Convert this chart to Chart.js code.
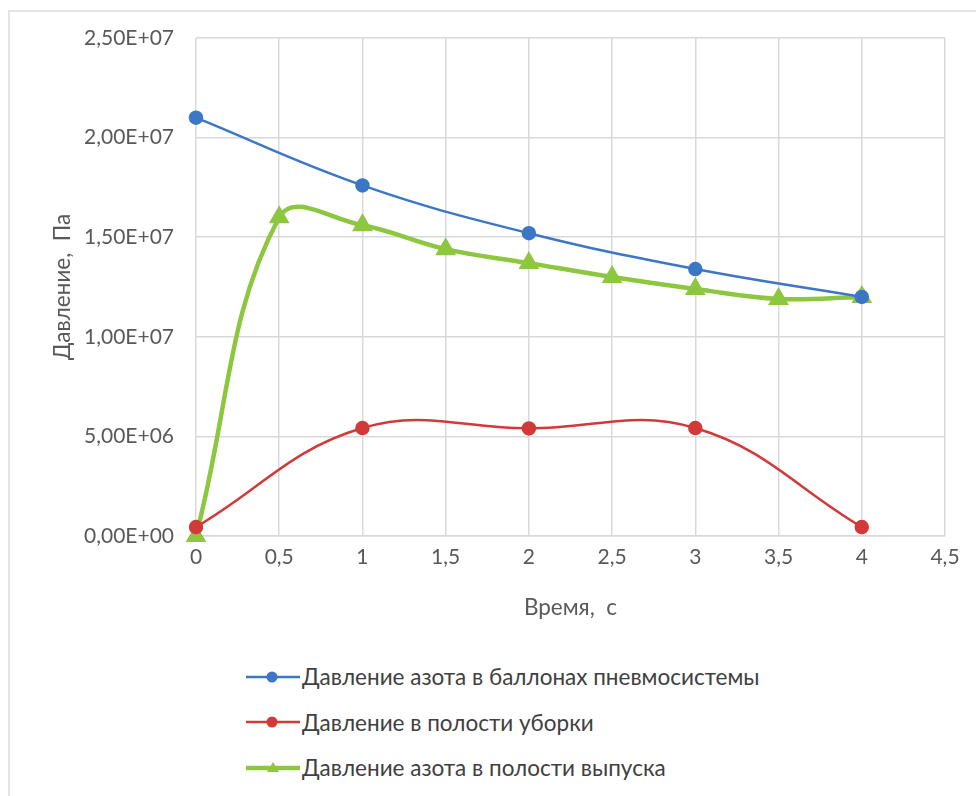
<!DOCTYPE html>
<html>
<head>
<meta charset="utf-8">
<script src="https://cdn.jsdelivr.net/npm/chart.js@4"></script>
<style>
  html, body { margin: 0; padding: 0; background: #fff; overflow: hidden; }
  body { width: 976px; height: 796px; position: relative; font-family: Lato, "Open Sans", sans-serif; }
  #frame { position: absolute; left: 8px; top: 10px; width: 1100px; height: 900px; border: 2px solid #e4e4e4; }
  #chartBox { position: absolute; left: 0; top: 0; width: 976px; height: 640px; }
  #legend { position: absolute; left: 246px; top: 654px; }
  .item { height: 45.5px; display: flex; align-items: center; font-size: 22.5px; color: #404040; white-space: nowrap; }
  .item svg { margin-right: 2px; }
</style>
</head>
<body>
<div id="frame"></div>
<div id="chartBox"><canvas id="chart" width="976" height="640"></canvas></div>
<div id="legend"></div>
<script>
// time, s
const timeMain = [0, 1, 2, 3, 4];
const timeOut = [0, 0.5, 1, 1.5, 2, 2.5, 3, 3.5, 4];

// pressure, Pa
const pressBottles = [2.10e7, 1.76e7, 1.52e7, 1.34e7, 1.20e7];
const pressRetract = [4.5e5, 5.42e6, 5.40e6, 5.42e6, 4.5e5];
const pressOutlet = [0, 1.60e7, 1.56e7, 1.44e7, 1.37e7, 1.30e7, 1.24e7, 1.19e7, 1.20e7];

const seriesNames = [
    'Давление азота в баллонах пневмосистемы',
    'Давление в полости уборки',
    'Давление азота в полости выпуска'
];
const seriesColors = ['#3b77c6', '#d23a3a', '#8dc63f'];

const xTicks = [0, 0.5, 1, 1.5, 2, 2.5, 3, 3.5, 4, 4.5];
const yTicks = [0, 5e6, 1e7, 1.5e7, 2e7, 2.5e7];

function toPoints(xs, ys) {
    return xs.map((x, i) => ({ x: x, y: ys[i] }));
}

// Excel style: 2,50E+07
function sciLabel(v) {
    if (v === 0) return '0,00E+00';
    const exp = Math.floor(Math.log10(Math.abs(v)));
    const mant = (v / Math.pow(10, exp)).toFixed(2).replace('.', ',');
    const e = (exp < 0 ? '-' : '+') + String(Math.abs(exp)).padStart(2, '0');
    return mant + 'E' + e;
}

const textColor = '#595959';
const tickFont = { family: 'Lato, "Open Sans", sans-serif', size: 21 };
const titleFont = { family: 'Lato, "Open Sans", sans-serif', size: 22.5 };

new Chart(document.getElementById('chart'), {
    type: 'line',
    data: {
        datasets: [
            {
                label: seriesNames[0],
                data: toPoints(timeMain, pressBottles),
                borderColor: seriesColors[0],
                backgroundColor: seriesColors[0],
                borderWidth: 2.5,
                pointRadius: 6,
                pointStyle: 'circle',
                tension: 0.4
            },
            {
                label: seriesNames[1],
                data: toPoints(timeMain, pressRetract),
                borderColor: seriesColors[1],
                backgroundColor: seriesColors[1],
                borderWidth: 2.5,
                pointRadius: 6,
                pointStyle: 'circle',
                tension: 0.4
            },
            {
                label: seriesNames[2],
                data: toPoints(timeOut, pressOutlet),
                borderColor: seriesColors[2],
                backgroundColor: seriesColors[2],
                borderWidth: 4.5,
                pointRadius: 7.5,
                pointStyle: 'triangle',
                tension: 0.4
            }
        ]
    },
    options: {
        responsive: false,
        animation: false,
        clip: false,
        layout: { padding: { left: 45, top: 38, right: 31, bottom: 15 } },
        plugins: {
            legend: { display: false },
            tooltip: { enabled: false }
        },
        scales: {
            x: {
                type: 'linear',
                min: 0,
                max: 4.5,
                afterBuildTicks: s => { s.ticks = xTicks.map(v => ({ value: v })); },
                afterFit: s => { s.height = 89; },
                grid: { color: '#d9d9d9', lineWidth: 1.5, drawTicks: false },
                border: { color: '#d9d9d9', width: 1.5 },
                ticks: {
                    color: textColor, font: tickFont, padding: 9,
                    callback: v => String(v).replace('.', ',')
                },
                title: {
                    display: true, text: 'Время,  с', color: textColor,
                    font: titleFont, padding: { top: 4, bottom: 4 }
                }
            },
            y: {
                min: 0,
                max: 2.5e7,
                afterBuildTicks: s => { s.ticks = yTicks.map(v => ({ value: v })); },
                afterFit: s => { s.width = 151; },
                grid: { color: '#d9d9d9', lineWidth: 1.5, drawTicks: false },
                border: { display: false },
                ticks: {
                    color: textColor, font: tickFont, padding: 22,
                    callback: v => sciLabel(v)
                },
                title: {
                    display: true, text: 'Давление,  Па', color: textColor,
                    font: titleFont, padding: { top: 4, bottom: 0 }
                }
            }
        }
    }
});

// legend: one item per row, line with marker
const legend = document.getElementById('legend');
seriesNames.forEach((name, i) => {
    const row = document.createElement('div');
    row.className = 'item';
    const w = i === 2 ? 4.5 : 2.5;
    const marker = i === 2
        ? '<polygon points="27,4 33,14 21,14" fill="' + seriesColors[i] + '"/>'
        : '<circle cx="26" cy="10" r="5.5" fill="' + seriesColors[i] + '"/>';
    row.innerHTML = '<svg width="54" height="20"><line x1="0" y1="10" x2="54" y2="10" stroke="' +
        seriesColors[i] + '" stroke-width="' + w + '"/>' + marker + '</svg><span>' + name + '</span>';
    legend.appendChild(row);
});
</script>
</body>
</html>
